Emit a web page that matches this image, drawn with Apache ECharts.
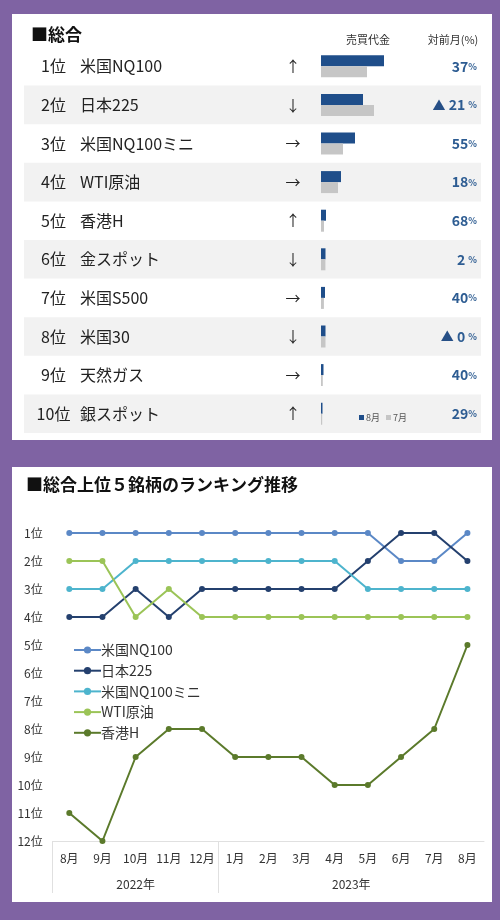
<!DOCTYPE html>
<html>
<head>
<meta charset="utf-8">
<script src="https://cdn.jsdelivr.net/npm/echarts@6/dist/echarts.min.js"></script>
<style>
  html, body { margin: 0; padding: 0; background: #7f63a3; }
  #main { width: 500px; height: 920px; }
</style>
</head>
<body>
<div id="main"></div>
<script>
// top table: monthly ranking
const ranks = ['1位', '2位', '3位', '4位', '5位', '6位', '7位', '8位', '9位', '10位'];
const names = ['米国NQ100', '日本225', '米国NQ100ミニ', 'WTI原油', '香港H', '金スポット', '米国S500', '米国30', '天然ガス', '銀スポット'];
const trend = ['↑', '↓', '→', '→', '↑', '↓', '→', '↓', '→', '↑'];
const aug = [63, 42, 34, 20, 5, 4.5, 4, 4.5, 2.5, 1.5];
const jul = [46, 53, 22, 17, 3, 4.4, 2.9, 4.5, 1.8, 1.2];
const change = ['37', '▲ 21 ', '55', '18', '68', '2 ', '40', '▲ 0 ', '40', '29'];

// bottom chart: ranking history
const months = ['8月', '9月', '10月', '11月', '12月', '1月', '2月', '3月', '4月', '5月', '6月', '7月', '8月'];
const years = ['2022年', '2023年'];
const nq100 = [1, 1, 1, 1, 1, 1, 1, 1, 1, 1, 2, 2, 1];
const nikkei = [4, 4, 3, 4, 3, 3, 3, 3, 3, 2, 1, 1, 2];
const nq100mini = [3, 3, 2, 2, 2, 2, 2, 2, 2, 3, 3, 3, 3];
const wti = [2, 2, 4, 3, 4, 4, 4, 4, 4, 4, 4, 4, 4];
const hk = [11, 12, 9, 8, 8, 9, 9, 9, 10, 10, 9, 8, 5];

const font = '"Noto Sans CJK JP", sans-serif';
const chart = echarts.init(document.getElementById('main'));

const lineSeries = (name, data, color) => ({
  name,
  type: 'line',
  xAxisIndex: 2,
  yAxisIndex: 5,
  data,
  symbol: 'circle',
  symbolSize: 6,
  color,
  lineStyle: { width: 2, color },
  itemStyle: { color },
  emphasis: { disabled: true },
});

// one label column of the table, all stacked on the left edge of the grid
const column = (data, margin, align, size, extra) => Object.assign({
  gridIndex: 0,
  type: 'category',
  position: 'left',
  offset: 0,
  inverse: true,
  data,
  axisLine: { show: false },
  axisTick: { show: false },
  splitLine: { show: false },
  axisLabel: { inside: true, margin, align, fontSize: size, color: '#222' },
}, extra || {});

chart.setOption({
  backgroundColor: '#7f63a3',
  animation: false,
  textStyle: { fontFamily: font },
  graphic: [
    { type: 'rect', z: -100, shape: { x: 12, y: 14, width: 480, height: 426 }, style: { fill: '#fff' } },
    { type: 'rect', z: -100, shape: { x: 12, y: 467, width: 480, height: 435 }, style: { fill: '#fff' } },
    { type: 'text', x: 368, y: 40, style: { text: '売買代金', fill: '#333', font: '11px ' + font, textAlign: 'center', textVerticalAlign: 'middle' } },
    { type: 'text', x: 453, y: 40, style: { text: '対前月(%)', fill: '#333', font: '11px ' + font, textAlign: 'center', textVerticalAlign: 'middle' } },
  ],
  title: [
    { text: '■総合', left: 26, top: 21, textStyle: { fontSize: 17, fontWeight: 'bold', color: '#111', fontFamily: font } },
    { text: '■総合上位５銘柄のランキング推移', left: 21, top: 471, textStyle: { fontSize: 17, fontWeight: 'bold', color: '#111', fontFamily: font } },
  ],
  legend: [
    {
      data: ['8月', '7月'],
      left: 354,
      top: 408,
      icon: 'rect',
      itemWidth: 5,
      itemHeight: 5,
      itemGap: 6,
      textStyle: { fontSize: 9, color: '#555', padding: [0, 0, 0, -3] },
    },
    {
      data: ['米国NQ100', '日本225', '米国NQ100ミニ', 'WTI原油', '香港H'],
      orient: 'vertical',
      left: 68,
      top: 638,
      itemGap: 6.7,
      itemWidth: 27,
      itemHeight: 9,
      textStyle: { fontSize: 14, color: '#333', padding: [0, 0, 0, -5] },
    },
  ],
  grid: [
    { left: 24, top: 47, width: 457, height: 386 },
    { left: 321, top: 47, width: 160, height: 386 },
    { left: 52.7, top: 533, width: 431.3, height: 308 },
  ],
  xAxis: [
    { gridIndex: 0, type: 'value', min: 0, max: 1, show: false },
    { gridIndex: 1, type: 'value', min: 0, max: 160, show: false },
    {
      gridIndex: 2,
      type: 'category',
      data: months,
      axisLine: { lineStyle: { color: '#e0e0e0', width: 1 } },
      axisTick: { show: false },
      axisLabel: { fontSize: 12, color: '#333', margin: 11, interval: 0 },
    },
    {
      gridIndex: 2,
      type: 'value',
      position: 'bottom',
      min: -0.5,
      max: 12.5,
      axisLine: { show: false },
      splitLine: { show: false },
      axisTick: { show: true, length: 52, customValues: [-0.5, 4.5], lineStyle: { color: '#e0e0e0' } },
      axisLabel: {
        customValues: [2, 8.5],
        margin: 37,
        fontSize: 12,
        color: '#333',
        formatter: (v) => (v < 4.5 ? years[0] : years[1]),
      },
    },
  ],
  yAxis: [
    column(ranks, 29.5, 'center', 16, {
      splitArea: { show: true, areaStyle: { color: ['rgba(0,0,0,0)', '#f2f2f2'] } },
    }),
    column(names, 56, 'left', 16),
    column(trend, 269, 'center', 15),
    {
      gridIndex: 0,
      type: 'category',
      inverse: true,
      position: 'right',
      offset: 0,
      data: change,
      axisLine: { show: false },
      axisTick: { show: false },
      splitLine: { show: false },
      axisLabel: {
        inside: true,
        margin: 4,
        formatter: (v) => {
          const down = v.indexOf('▲') === 0;
          const num = down ? v.slice(1) : v;
          return (down ? '{t|▲}' : '') + `{v|${num}}{p|%}`;
        },
        rich: {
          t: { fontSize: 13, color: '#264f86' },
          v: { fontSize: 14, fontWeight: 'bold', color: '#2d5c92' },
          p: { fontSize: 9, fontWeight: 'bold', color: '#2d5c92' },
        },
      },
    },
    {
      gridIndex: 1,
      type: 'category',
      inverse: true,
      data: names,
      show: false,
    },
    {
      gridIndex: 2,
      type: 'value',
      inverse: true,
      min: 1,
      max: 12,
      interval: 1,
      axisLine: { show: false },
      axisTick: { show: false },
      splitLine: { show: false },
      axisLabel: { fontSize: 12, color: '#333', margin: 10, formatter: '{value}位' },
    },
  ],
  series: [
    {
      name: '8月',
      type: 'bar',
      xAxisIndex: 1,
      yAxisIndex: 4,
      data: aug,
      barWidth: 11,
      barGap: '0%',
      itemStyle: { color: '#1f4e8a' },
      emphasis: { disabled: true },
    },
    {
      name: '7月',
      type: 'bar',
      xAxisIndex: 1,
      yAxisIndex: 4,
      data: jul,
      barWidth: 11,
      barGap: '0%',
      itemStyle: { color: '#c6c6c6' },
      emphasis: { disabled: true },
    },
    lineSeries('米国NQ100', nq100, '#5b88c6'),
    lineSeries('日本225', nikkei, '#24406e'),
    lineSeries('米国NQ100ミニ', nq100mini, '#4db4cd'),
    lineSeries('WTI原油', wti, '#9bc457'),
    lineSeries('香港H', hk, '#5b7a2b'),
  ],
});
</script>
</body>
</html>
